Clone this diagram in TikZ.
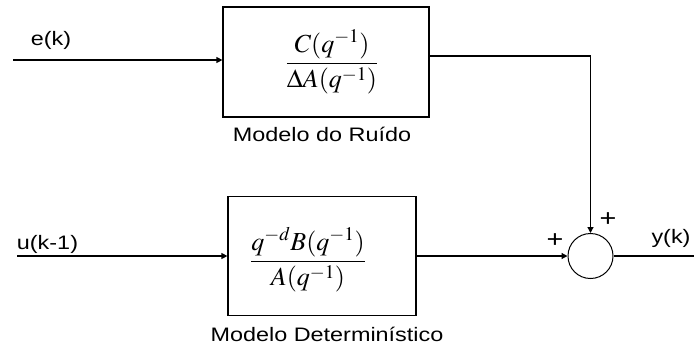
\documentclass[tikz,border=0pt]{standalone}
\usepackage{amsmath}
\usepackage{mathptmx}
\usepackage[no-math]{fontspec}
\setmainfont{Liberation Sans}[FakeStretch=1.2]
\usetikzlibrary{arrows.meta}
\begin{document}
\begin{tikzpicture}[x=1pt,y=-1pt,
  line width=1.2pt,
  blk/.style={draw,rectangle,inner sep=0pt},
  sumc/.style={draw,circle,minimum size=45pt,inner sep=0pt,line width=1pt},
  lbl/.style={font=\fontsize{19.5}{22}\selectfont,inner sep=0pt,anchor=base},
  plus/.style={font=\fontsize{24}{26}\selectfont,inner sep=0pt,anchor=center},
  frac/.style={font=\fontsize{26}{30}\selectfont,inner sep=0pt},
  arr/.style={-{Triangle[length=6pt,width=6pt]}}]
\useasboundingbox (0,0) rectangle (694,349);
% blocks
\node[blk,minimum width=206pt,minimum height=110pt] (top) at (326,62) {};
\node[blk,minimum width=188pt,minimum height=119pt] (bot) at (322,256) {};
\node[sumc] (sum) at (590.5,256) {};
% block contents
\node[frac] (ftop) at (332,62) {$\dfrac{C(q^{-1})}{\Delta A(q^{-1})}$};
\node[frac] (fbot) at (308,260) {$\dfrac{q^{-d}B(q^{-1})}{A(q^{-1})}$};
% labels
\node[lbl] (lnoise) at (322,141) {Modelo do Ruído};
\node[lbl] (ldet) at (327,341) {Modelo Determinístico};
\node[lbl] (le) at (51,45) {e(k)};
\node[lbl] (lu) at (47.5,249) {u(k-1)};
\node[lbl] (ly) at (671,243) {y(k)};
\node[plus] (p1) at (608,220) {+};
\node[plus] (p2) at (555,241) {+};
% coordinates
\coordinate (ein) at (13,60);
\coordinate (uin) at (17,256);
\coordinate (tout) at (591,56);
\coordinate (yout) at (694,256);
% connectors
\draw[arr] (ein) -- (ein -| top.west);
\draw[arr] (top.east |- tout) -| (sum.north);
\draw[arr] (uin) -- (bot.west);
\draw[arr] (bot.east) -- (sum.west);
\draw (sum.east) -- (yout);
\end{tikzpicture}
\end{document}
